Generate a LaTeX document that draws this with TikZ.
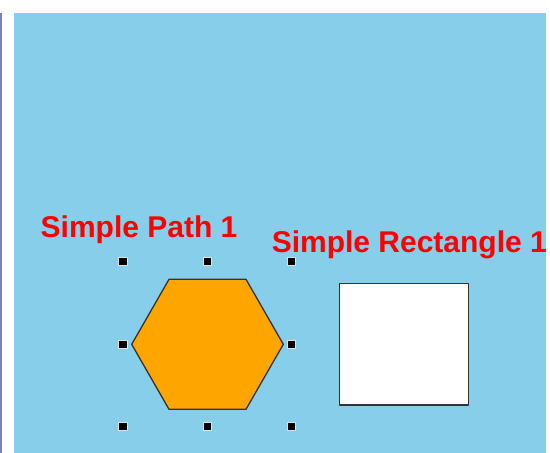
\documentclass[tikz,border=0pt]{standalone}
\usepackage{fontspec}
\setsansfont{Liberation Sans}
\usepackage{xcolor}
\usetikzlibrary{positioning,calc,shapes.geometric}
\definecolor{canvasblue}{HTML}{87CEEB}
\definecolor{edgeblue}{HTML}{7383B3}
\definecolor{shapeorange}{HTML}{FFA500}
\definecolor{labelred}{HTML}{FF0000}

\begin{document}
\begin{tikzpicture}[x=1pt,y=-1pt,
  lbl/.style={font=\sffamily\bfseries\fontsize{30}{30}\selectfont,text=labelred,inner sep=0pt,anchor=base west},
  outline/.style={draw=black!80,line width=1.3pt,line join=round},
  handle/.style={draw=white!75!gray,fill=black,line width=1pt,minimum size=8.5pt,inner sep=0pt}]

  % ---------- canvas ----------
  \useasboundingbox (0,0) rectangle (550,453);
  \fill[white] (0,0) rectangle (550,453);
  \fill[canvasblue] (13.5,13) rectangle (546,453);
  \fill[edgeblue] (0,13) rectangle (1.6,453);

  % ---------- labels ----------
  \begin{scope}
    \clip (13.5,13) rectangle (546,453);
    \node[lbl] (pathlab) at (40.5,237.7) {Simple Path 1};
    \node[lbl] (rectlab) at (271.6,252.7) {Simple Rectangle 1};
  \end{scope}

  % ---------- hexagon path ----------
  \coordinate (h1) at (169,279.3);
  \coordinate (h2) at (246,279.3);
  \coordinate (h3) at (283.3,344.3);
  \coordinate (h4) at (246,409.3);
  \coordinate (h5) at (169,409.3);
  \coordinate (h6) at (131.7,344.3);
  \draw[outline,fill=shapeorange] (h1) -- (h2) -- (h3) -- (h4) -- (h5) -- (h6) -- cycle;

  % ---------- selection handles ----------
  \foreach \hx/\hy/\hn in {123/261.7/nw,207.3/261.7/n,291.7/261.7/ne,
                           123/344.3/w,291.7/344.3/e,
                           123/426.7/sw,207.3/426.7/s,291.7/426.7/se}
    \node[handle] (hd-\hn) at (\hx,\hy) {};

  % ---------- rectangle ----------
  \node[outline,fill=white,minimum width=129pt,minimum height=121.7pt,inner sep=0pt]
    (rect) at (403.8,344.2) {};
\end{tikzpicture}
\end{document}
